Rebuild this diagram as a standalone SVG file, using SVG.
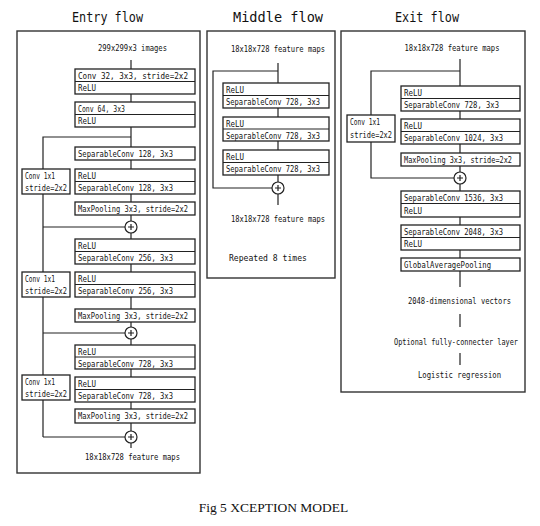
<svg xmlns="http://www.w3.org/2000/svg" width="540" height="526" viewBox="0 0 540 526">
<style>
.frame{fill:none;stroke:#333;stroke-width:1.4}
.box{fill:#fff;stroke:#222;stroke-width:1.3}
.div{stroke:#222;stroke-width:1}
.ln{fill:none;stroke:#222;stroke-width:1.2}
.plus{fill:#fff;stroke:#222;stroke-width:1.2}
.t{font-family:"DejaVu Sans Mono","Liberation Mono",monospace;font-size:9px;fill:#111}
.s{font-size:8px}
.c{text-anchor:middle}
.title{font-family:"DejaVu Sans Mono","Liberation Mono",monospace;font-size:14px;fill:#111;text-anchor:middle}
.cap{font-family:"Liberation Serif","Times New Roman",serif;font-size:13.5px;fill:#111;text-anchor:middle}
</style>
<rect width="540" height="526" fill="#fff"/>
<defs>
<g id="plusSign"><circle r="6" class="plus"/><path d="M-3 0H3M0 -3V3" class="ln" stroke-width="1"/></g>
</defs>

<!-- titles and frames -->
<text class="title" x="107.5" y="22" textLength="71" lengthAdjust="spacingAndGlyphs">Entry flow</text>
<text class="title" x="278" y="22" textLength="90" lengthAdjust="spacingAndGlyphs">Middle flow</text>
<text class="title" x="427" y="22" textLength="64" lengthAdjust="spacingAndGlyphs">Exit flow</text>
<rect class="frame" x="17" y="31" width="183" height="442"/>
<rect class="frame" x="207" y="31" width="128" height="247"/>
<rect class="frame" x="341" y="31" width="184" height="361"/>

<!-- connectors -->
<g id="connectors">
<path class="ln" d="M131 60V448"/>
<path class="ln" d="M131 137H43V437M43 227H125M43 333H125M43 437H125"/>
<path class="ln" d="M278 63V205M278 71H213V188H272"/>
<path class="ln" d="M460 59V287M460 71H371V178H454M460 314V327M460 353V365"/>
</g>

<!-- entry flow -->
<g id="entry-input"><text class="t c" x="132.5" y="51" textLength="69" lengthAdjust="spacingAndGlyphs">299x299x3 images</text></g>
<g id="e1"><rect class="box" x="75" y="69" width="120" height="25"/><line class="div" x1="75" y1="81.5" x2="195" y2="81.5"/>
<text class="t" x="78" y="78.5" textLength="110" lengthAdjust="spacingAndGlyphs">Conv 32, 3x3, stride=2x2</text><text class="t" x="78" y="91" textLength="18" lengthAdjust="spacingAndGlyphs">ReLU</text></g>
<g id="e2"><rect class="box" x="75" y="102" width="120" height="25"/><line class="div" x1="75" y1="114.5" x2="195" y2="114.5"/>
<text class="t" x="78" y="111.5" textLength="47" lengthAdjust="spacingAndGlyphs">Conv 64, 3x3</text><text class="t" x="78" y="124" textLength="18" lengthAdjust="spacingAndGlyphs">ReLU</text></g>
<g id="e3"><rect class="box" x="75" y="147" width="120" height="13"/>
<text class="t" x="78" y="156.5" textLength="95" lengthAdjust="spacingAndGlyphs">SeparableConv 128, 3x3</text></g>
<g id="e4"><rect class="box" x="75" y="169" width="120" height="25"/><line class="div" x1="75" y1="181.5" x2="195" y2="181.5"/>
<text class="t" x="78" y="178.5" textLength="18" lengthAdjust="spacingAndGlyphs">ReLU</text><text class="t" x="78" y="191" textLength="95" lengthAdjust="spacingAndGlyphs">SeparableConv 128, 3x3</text></g>
<g id="ec1"><rect class="box" x="22" y="169" width="48" height="25"/>
<text class="t" x="25" y="178.5" textLength="30" lengthAdjust="spacingAndGlyphs">Conv 1x1</text><text class="t" x="25" y="191" textLength="42" lengthAdjust="spacingAndGlyphs">stride=2x2</text></g>
<g id="e5"><rect class="box" x="75" y="202" width="120" height="13"/>
<text class="t" x="78" y="211.5" textLength="110" lengthAdjust="spacingAndGlyphs">MaxPooling 3x3, stride=2x2</text></g>
<g id="ep1"><use href="#plusSign" x="131" y="227"/></g>
<g id="e6"><rect class="box" x="75" y="239" width="120" height="25"/><line class="div" x1="75" y1="251.5" x2="195" y2="251.5"/>
<text class="t" x="78" y="248.5" textLength="18" lengthAdjust="spacingAndGlyphs">ReLU</text><text class="t" x="78" y="261" textLength="95" lengthAdjust="spacingAndGlyphs">SeparableConv 256, 3x3</text></g>
<g id="e7"><rect class="box" x="75" y="272" width="120" height="25"/><line class="div" x1="75" y1="284.5" x2="195" y2="284.5"/>
<text class="t" x="78" y="281.5" textLength="18" lengthAdjust="spacingAndGlyphs">ReLU</text><text class="t" x="78" y="294" textLength="95" lengthAdjust="spacingAndGlyphs">SeparableConv 256, 3x3</text></g>
<g id="ec2"><rect class="box" x="22" y="272" width="48" height="25"/>
<text class="t" x="25" y="281.5" textLength="30" lengthAdjust="spacingAndGlyphs">Conv 1x1</text><text class="t" x="25" y="294" textLength="42" lengthAdjust="spacingAndGlyphs">stride=2x2</text></g>
<g id="e8"><rect class="box" x="75" y="309" width="120" height="13"/>
<text class="t" x="78" y="318.5" textLength="110" lengthAdjust="spacingAndGlyphs">MaxPooling 3x3, stride=2x2</text></g>
<g id="ep2"><use href="#plusSign" x="131" y="333"/></g>
<g id="e9"><rect class="box" x="75" y="345" width="120" height="24"/><line class="div" x1="75" y1="357" x2="195" y2="357"/>
<text class="t" x="78" y="354.5" textLength="18" lengthAdjust="spacingAndGlyphs">ReLU</text><text class="t" x="78" y="366.5" textLength="95" lengthAdjust="spacingAndGlyphs">SeparableConv 728, 3x3</text></g>
<g id="e10"><rect class="box" x="75" y="377" width="120" height="25"/><line class="div" x1="75" y1="389.5" x2="195" y2="389.5"/>
<text class="t" x="78" y="386.5" textLength="18" lengthAdjust="spacingAndGlyphs">ReLU</text><text class="t" x="78" y="399" textLength="95" lengthAdjust="spacingAndGlyphs">SeparableConv 728, 3x3</text></g>
<g id="ec3"><rect class="box" x="22" y="375" width="48" height="25"/>
<text class="t" x="25" y="384.5" textLength="30" lengthAdjust="spacingAndGlyphs">Conv 1x1</text><text class="t" x="25" y="397" textLength="42" lengthAdjust="spacingAndGlyphs">stride=2x2</text></g>
<g id="e11"><rect class="box" x="75" y="409" width="120" height="14"/>
<text class="t" x="78" y="419" textLength="110" lengthAdjust="spacingAndGlyphs">MaxPooling 3x3, stride=2x2</text></g>
<g id="ep3"><use href="#plusSign" x="131" y="437"/></g>
<g id="entry-output"><text class="t c" x="132.5" y="460" textLength="95" lengthAdjust="spacingAndGlyphs">18x18x728 feature maps</text></g>

<!-- middle flow -->
<g id="middle-input"><text class="t c" x="278" y="52" textLength="94" lengthAdjust="spacingAndGlyphs">18x18x728 feature maps</text></g>
<g id="m1"><rect class="box" x="223" y="83" width="106" height="25"/><line class="div" x1="223" y1="95.5" x2="329" y2="95.5"/>
<text class="t" x="226" y="92.5" textLength="18" lengthAdjust="spacingAndGlyphs">ReLU</text><text class="t" x="226" y="105" textLength="94" lengthAdjust="spacingAndGlyphs">SeparableConv 728, 3x3</text></g>
<g id="m2"><rect class="box" x="223" y="117" width="106" height="24"/><line class="div" x1="223" y1="129" x2="329" y2="129"/>
<text class="t" x="226" y="126.5" textLength="18" lengthAdjust="spacingAndGlyphs">ReLU</text><text class="t" x="226" y="138.5" textLength="94" lengthAdjust="spacingAndGlyphs">SeparableConv 728, 3x3</text></g>
<g id="m3"><rect class="box" x="223" y="150" width="106" height="25"/><line class="div" x1="223" y1="162.5" x2="329" y2="162.5"/>
<text class="t" x="226" y="159.5" textLength="18" lengthAdjust="spacingAndGlyphs">ReLU</text><text class="t" x="226" y="172" textLength="94" lengthAdjust="spacingAndGlyphs">SeparableConv 728, 3x3</text></g>
<g id="mp"><use href="#plusSign" x="278" y="188"/></g>
<g id="middle-output"><text class="t c" x="278" y="222" textLength="94" lengthAdjust="spacingAndGlyphs">18x18x728 feature maps</text></g>
<g id="middle-repeat"><text class="t c" x="268" y="261" textLength="78" lengthAdjust="spacingAndGlyphs">Repeated 8 times</text></g>

<!-- exit flow -->
<g id="exit-input"><text class="t c" x="452" y="51" textLength="95" lengthAdjust="spacingAndGlyphs">18x18x728 feature maps</text></g>
<g id="x1"><rect class="box" x="401" y="86" width="119" height="25"/><line class="div" x1="401" y1="98.5" x2="520" y2="98.5"/>
<text class="t" x="404" y="95.5" textLength="18" lengthAdjust="spacingAndGlyphs">ReLU</text><text class="t" x="404" y="108" textLength="95" lengthAdjust="spacingAndGlyphs">SeparableConv 728, 3x3</text></g>
<g id="x2"><rect class="box" x="401" y="119" width="119" height="25"/><line class="div" x1="401" y1="131.5" x2="520" y2="131.5"/>
<text class="t" x="404" y="128.5" textLength="18" lengthAdjust="spacingAndGlyphs">ReLU</text><text class="t" x="404" y="141" textLength="99" lengthAdjust="spacingAndGlyphs">SeparableConv 1024, 3x3</text></g>
<g id="xc"><rect class="box" x="347" y="115" width="48" height="27"/>
<text class="t" x="350" y="125" textLength="30" lengthAdjust="spacingAndGlyphs">Conv 1x1</text><text class="t" x="350" y="137.5" textLength="42" lengthAdjust="spacingAndGlyphs">stride=2x2</text></g>
<g id="x3"><rect class="box" x="401" y="153" width="119" height="13"/>
<text class="t s" x="404" y="162.5" textLength="108" lengthAdjust="spacingAndGlyphs">MaxPooling 3x3, stride=2x2</text></g>
<g id="xp"><use href="#plusSign" x="460" y="178"/></g>
<g id="x4"><rect class="box" x="401" y="191" width="119" height="26"/><line class="div" x1="401" y1="203.5" x2="520" y2="203.5"/>
<text class="t" x="404" y="200.5" textLength="99" lengthAdjust="spacingAndGlyphs">SeparableConv 1536, 3x3</text><text class="t" x="404" y="213.5" textLength="18" lengthAdjust="spacingAndGlyphs">ReLU</text></g>
<g id="x5"><rect class="box" x="401" y="225" width="119" height="25"/><line class="div" x1="401" y1="237.5" x2="520" y2="237.5"/>
<text class="t" x="404" y="234.5" textLength="99" lengthAdjust="spacingAndGlyphs">SeparableConv 2048, 3x3</text><text class="t" x="404" y="247" textLength="18" lengthAdjust="spacingAndGlyphs">ReLU</text></g>
<g id="x6"><rect class="box" x="401" y="258" width="119" height="13"/>
<text class="t" x="404" y="267.5" textLength="87" lengthAdjust="spacingAndGlyphs">GlobalAveragePooling</text></g>
<g id="x-vec"><text class="t c" x="459.5" y="304" textLength="103" lengthAdjust="spacingAndGlyphs">2048-dimensional vectors</text></g>
<g id="x-fc"><text class="t c s" x="456" y="345" textLength="124" lengthAdjust="spacingAndGlyphs">Optional fully-connecter layer</text></g>
<g id="x-lr"><text class="t c" x="459.5" y="378" textLength="83" lengthAdjust="spacingAndGlyphs">Logistic regression</text></g>

<text class="cap" x="273.5" y="512">Fig 5 XCEPTION MODEL</text>
</svg>
